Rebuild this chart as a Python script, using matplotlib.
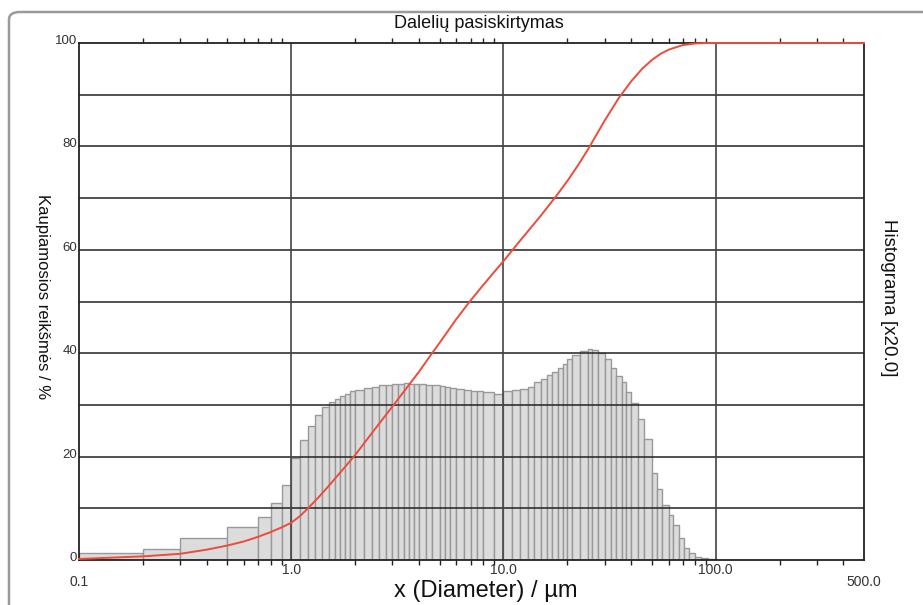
import numpy as np
import matplotlib.pyplot as plt
import matplotlib.transforms as mtransforms
from matplotlib.patches import FancyBboxPatch
from matplotlib.ticker import NullFormatter, FixedLocator

plt.rcParams['font.family'] = ['Liberation Sans', 'DejaVu Sans']

# histogramos klasių ribos (µm)
bin_edges = [0.1, 0.2, 0.3, 0.5, 0.7, 0.8, 0.9,
             1.0, 1.1, 1.2, 1.3, 1.4, 1.5, 1.6, 1.7, 1.8, 1.9,
             2.0, 2.2, 2.4, 2.6, 2.8, 3.0, 3.2, 3.4, 3.6, 3.8,
             4.0, 4.3, 4.6, 5.0, 5.3, 5.6, 6.0, 6.5, 7.0, 7.5, 8.0, 9.0,
             10, 11, 12, 13, 14, 15, 16, 17, 18, 19,
             20, 21, 23, 25, 26, 28, 30, 32, 34, 36, 38,
             40, 43, 46, 50, 53, 56, 60, 63, 67, 71, 75, 80, 85, 92, 100]

# histogramos aukščiai (x20)
hist_vals = [1.3, 2.1, 4.3, 6.3, 8.3, 11.1, 14.5,
             19.7, 23.2, 25.9, 28.1, 29.6, 30.5, 31.1, 31.8, 32.2, 32.6,
             32.9, 33.2, 33.5, 33.8, 33.9, 34.0, 34.1, 34.2, 34.1, 34.0,
             34.0, 33.9, 33.8, 33.6, 33.5, 33.3, 33.1, 32.9, 32.7, 32.6, 32.4, 32.2,
             32.6, 32.9, 33.1, 33.5, 34.4, 35.0, 35.8, 36.4, 37.1, 37.9,
             38.8, 39.7, 40.5, 40.9, 40.6, 40.0, 38.8, 37.1, 35.6, 34.5, 32.4,
             30.3, 27.2, 23.4, 16.9, 13.7, 10.6, 8.7, 6.8, 4.2, 2.3, 1.3, 0.6, 0.3, 0.1]

# kaupiamoji kreivė
cum_x = [0.1, 0.2, 0.3, 0.4, 0.5, 0.6, 0.7, 0.8, 0.9, 1.0, 1.1, 1.2, 1.35, 1.5,
         1.75, 2.0, 2.5, 3.0, 3.5, 4.0, 4.5, 5.0, 6.0, 7.0, 8.0, 9.0, 10,
         12, 15, 17.5, 20, 22.5, 25, 30, 35, 40, 45, 50, 55, 60, 70, 80, 90, 100, 500]
cum_y = [0.2, 0.7, 1.2, 2.0, 2.8, 3.6, 4.5, 5.4, 6.3, 7.2, 8.5, 10.0, 12.2, 14.3,
         17.5, 20.3, 25.5, 29.7, 33.3, 36.4, 39.4, 42.0, 46.6, 50.2, 53.1, 55.6, 57.8,
         61.8, 66.6, 70.1, 73.3, 76.4, 79.4, 85.0, 89.4, 92.6, 95.0, 96.7, 97.9, 98.7,
         99.6, 99.9, 100, 100, 100]

x_labels = ['0.1', '1.0', '10.0', '100.0', '500.0']
x_label_pos = [0.1, 1.0, 10.0, 100.0, 500.0]
y_labels = [0, 20, 40, 60, 80, 100]

fig = plt.figure(figsize=(9.23, 6.05), dpi=100)
ax = fig.add_axes([79/923, 1 - 560/605, (864 - 79)/923, (560 - 43)/605])

# rėmelis aplink
frame = FancyBboxPatch((9/923, -0.1), 1.2, 1.1 - 12/605,
                       boxstyle='round,pad=0,rounding_size=0.012',
                       transform=fig.transFigure, fill=False,
                       edgecolor='#9a9a9a', linewidth=1.8, clip_on=False)
fig.patches.append(frame)

edges = np.array(bin_edges)
ax.bar(edges[:-1], hist_vals, width=np.diff(edges), align='edge',
       color='#dcdcdc', edgecolor='#999999', linewidth=1.0, zorder=1)

ax.set_xscale('log')
ax.set_xlim(0.1, 500)
ax.set_ylim(0, 100)

for v in range(10, 100, 10):
    ax.axhline(v, color='#222222', linewidth=1.1, zorder=2)
for v in [1, 10, 100]:
    ax.axvline(v, color='#444444', linewidth=1.2, zorder=2)

ax.plot(cum_x, cum_y, color='#ee4b3b', linewidth=1.4, zorder=3, clip_on=False)

for s in ax.spines.values():
    s.set_color('#222222')
    s.set_linewidth(1.3)

# minor ticks apačioje ir viršuje
minors = [m * 10.0**e for e in range(-1, 3) for m in range(2, 10) if m * 10.0**e < 500]
ax.xaxis.set_major_locator(FixedLocator([]))
ax.xaxis.set_minor_locator(FixedLocator(minors))
ax.xaxis.set_minor_formatter(NullFormatter())
ax.tick_params(axis='x', which='minor', direction='out', length=3.5, width=1.0,
               color='#222222', top=True, bottom=True)
ax.set_yticks([])

xt = ax.get_xaxis_transform()
for lab, pos in zip(x_labels, x_label_pos):
    dy = -0.042 if lab in ('0.1', '500.0') else -0.019
    ax.text(pos, dy, lab, transform=xt, ha='center', va='center',
            fontsize=10, color='#333333')

yt = mtransforms.offset_copy(ax.get_yaxis_transform(), fig=fig, x=-2, y=2, units='dots')
for v in y_labels:
    ax.text(0, v, str(v), transform=yt, ha='right', va='center',
            fontsize=9.5, color='#333333')

fig.text(479/923, 1 - 23/605, 'Dalelių pasiskirtymas', ha='center', va='center',
         fontsize=13, color='#111111')
fig.text(486/923, 1 - 591/605, 'x (Diameter) / µm', ha='center', va='center',
         fontsize=17, color='#111111')
fig.text(42/923, 1 - 297/605, 'Kaupiamosios reikšmės / %', ha='center', va='center',
         rotation=-90, fontsize=12, color='#111111')
fig.text(888/923, 1 - 298/605, 'Histograma [x20.0]', ha='center', va='center',
         rotation=-90, fontsize=13.5, color='#111111')

fig.savefig('out.png', dpi=100)
